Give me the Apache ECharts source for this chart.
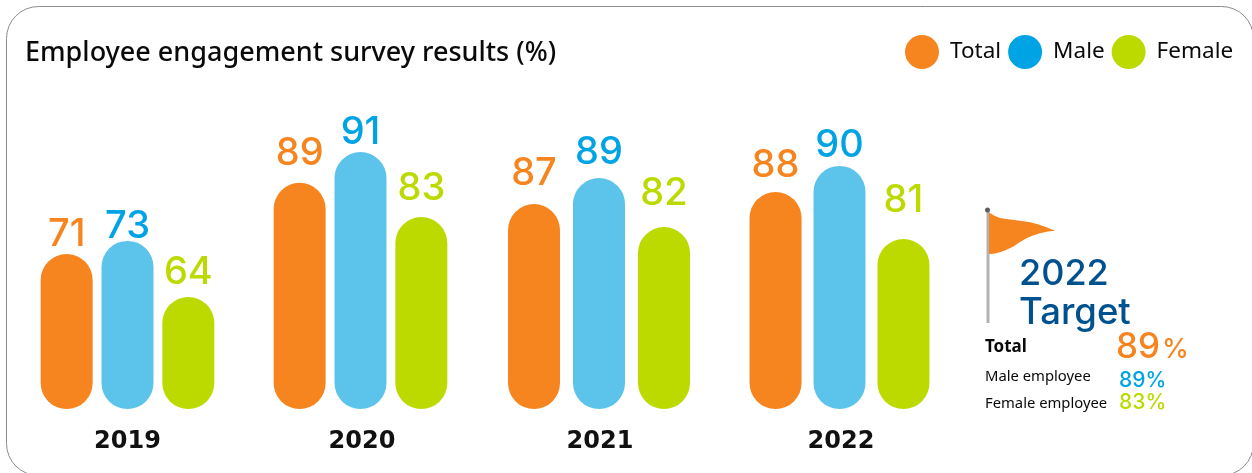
<!DOCTYPE html>
<html>
<head>
<meta charset="utf-8">
<style>html,body{margin:0;padding:0;background:#fff}#c{width:1252px;height:473px}</style>
<script src="https://cdn.jsdelivr.net/npm/echarts@6/dist/echarts.min.js"></script>
</head>
<body>
<div id="c"></div>
<script>
// Printed values
const years = ['2019', '2020', '2021', '2022'];
const totalValues = [71, 89, 87, 88];
const maleValues = [73, 91, 89, 90];
const femaleValues = [64, 83, 82, 81];
// The reference's bars are not proportional to the printed values, so the
// lengths as drawn are read separately (same unit scale, tallest bar ≈ 91).
const totalLengths = [54.8, 79.9, 72.4, 76.7];
const maleLengths = [59.4, 90.8, 81.6, 85.9];
const femaleLengths = [39.6, 67.8, 64.3, 60.1];
const targetYear = '2022';
const targetLabels = ['Total', 'Male employee', 'Female employee'];
const targetValues = [89, 89, 83];

// Layout / style (not data)
const ORANGE = '#F7851F', BLUE_TEXT = '#00A3E4', BLUE_BAR = '#5CC4EA', GREEN = '#BDDA00', NAVY = '#00528F';
const FONT = '"Noto Sans", sans-serif', NUM_FONT = 'Inter, sans-serif', YEAR_FONT = '"DejaVu Sans", sans-serif';
const groupCenters = [127.5, 360.5, 599, 839.5];
const barGaps = ['17%', '17%', '25%', '23%'];
const yearLabelPad = [0, 3, 2, 3];
const GRID_W = 200, GRID_TOP = 109, GRID_H = 300, AXIS_MAX = 106;
const labelLift = {
  Total: [-2, 8, 10, 5],
  Male: [-7, -2, 4, -1],
  Female: [3, 8, 12, 17]
};
const flagOutline = [[989,212.5],[994,215.5],[1000,218],[1010,219.5],[1020,220.7],[1030,222.3],[1037,224],[1046,227],[1055,230.7],
  [1048,231.5],[1040,233.3],[1033,235.5],[1027,238],[1020,242],[1013,246.7],[1006,250],[1000,252.3],[994,253.7],[989,254]];

const grids = [], xAxes = [], yAxes = [], series = [];
const defs = [
  ['Total', totalValues, totalLengths, ORANGE, ORANGE],
  ['Male', maleValues, maleLengths, BLUE_BAR, BLUE_TEXT],
  ['Female', femaleValues, femaleLengths, GREEN, GREEN]
];
years.forEach((year, i) => {
  grids.push({left: groupCenters[i] - GRID_W / 2, width: GRID_W, top: GRID_TOP, height: GRID_H});
  xAxes.push({
    type: 'category', gridIndex: i, data: [year],
    axisLine: {show: false}, axisTick: {show: false},
    axisLabel: {show: true, margin: 21, fontFamily: YEAR_FONT, fontSize: 24, fontWeight: 'bold', color: '#111',
      padding: [0, 0, 0, yearLabelPad[i]]}
  });
  yAxes.push({type: 'value', gridIndex: i, min: 0, max: AXIS_MAX, show: false, splitLine: {show: false}});
  defs.forEach(([name, values, lengths, barColor, textColor]) => {
    series.push({
      name, type: 'bar', xAxisIndex: i, yAxisIndex: i,
      barWidth: 52, barGap: barGaps[i],
      itemStyle: {color: barColor, borderRadius: 26},
      label: {
        show: true, position: 'top', distance: 2 + labelLift[name][i],
        formatter: () => String(values[i]),
        fontFamily: NUM_FONT, fontSize: 38, fontWeight: 500, color: textColor
      },
      data: [lengths[i]]
    });
  });
});

// y is the text's baseline; zrender anchors at the top of the line box
const txt = (x, base, text, size, color, font, weight) => ({
  type: 'text', x, y: base - size * 0.78,
  style: {text, fontFamily: font || FONT, fontSize: size, fill: color, fontWeight: weight || 'normal'}
});

const chart = echarts.init(document.getElementById('c'), null, {renderer: 'canvas'});
chart.setOption({
  animation: false,
  backgroundColor: '#fff',
  title: {
    text: 'Employee engagement survey results (%)', left: 20, top: 35,
    textStyle: {fontFamily: FONT, fontSize: 27, fontWeight: 500, color: '#0a0a0a'}
  },
  legend: {
    left: 900, top: 30, itemWidth: 34, itemHeight: 34, itemGap: 7,
    textStyle: {fontFamily: FONT, fontSize: 22.5, color: '#0a0a0a', padding: [0, 0, 0, 6]},
    data: [
      {name: 'Total', icon: 'circle', itemStyle: {color: ORANGE}},
      {name: 'Male', icon: 'circle', itemStyle: {color: BLUE_TEXT}},
      {name: 'Female', icon: 'circle', itemStyle: {color: GREEN}}
    ]
  },
  grid: grids, xAxis: xAxes, yAxis: yAxes, series,
  graphic: {elements: [
    {type: 'rect', silent: true, z: -10, shape: {x: 6.5, y: 6.5, width: 1247, height: 469, r: 32},
     style: {fill: 'none', stroke: '#8c8c8c', lineWidth: 1}},
    {type: 'line', shape: {x1: 988, y1: 210, x2: 988, y2: 323}, style: {stroke: '#B2B2B2', lineWidth: 3}},
    {type: 'circle', shape: {cx: 987.5, cy: 210, r: 2.5}, style: {fill: '#5f5f5f'}},
    {type: 'polygon', shape: {points: flagOutline}, style: {fill: ORANGE}},
    txt(1019, 284, targetYear, 36, NAVY, NUM_FONT, 500),
    txt(1019, 323, 'Target', 36.5, NAVY, NUM_FONT, 500),
    txt(985, 352, targetLabels[0], 17, '#0a0a0a', FONT, 'bold'),
    txt(985, 381, targetLabels[1], 14.8, '#0a0a0a'),
    txt(985, 408, targetLabels[2], 14.8, '#0a0a0a'),
    txt(1116, 357, String(targetValues[0]), 35, ORANGE, NUM_FONT, 500),
    txt(1162, 357, '%', 27, ORANGE, NUM_FONT, 500),
    txt(1119, 387, targetValues[1] + '%', 21, BLUE_TEXT, NUM_FONT, 500),
    txt(1119, 409, targetValues[2] + '%', 21, GREEN, NUM_FONT, 500)
  ]}
});
</script>
</body>
</html>
